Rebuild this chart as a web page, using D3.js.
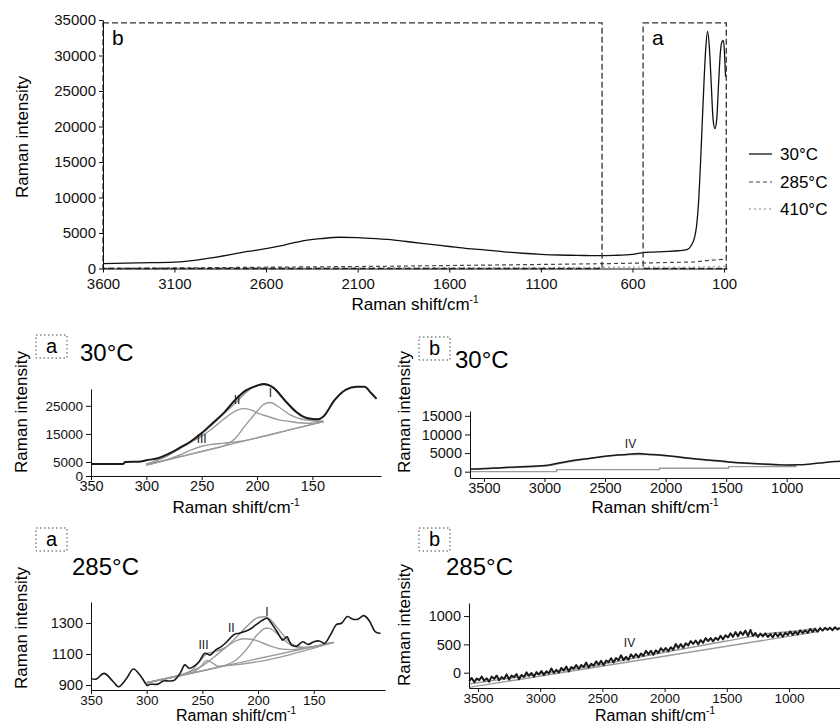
<!DOCTYPE html>
<html>
<head>
<meta charset="utf-8">
<script src="https://cdn.jsdelivr.net/npm/d3@7"></script>
<style>
  body { margin: 0; background: #fff; }
  svg { font-family: "Liberation Sans", Arial, sans-serif; }
</style>
</head>
<body>
<svg id="fig" width="840" height="725"></svg>
<script>
'use strict'

// ---- overview spectra (wavenumber, intensity) ----
const full30 = [[3490,700],[3300,800],[3100,900],[2900,1500],[2700,2400],[2600,2800],[2500,3300],
  [2400,3900],[2300,4200],[2200,4400],[2100,4350],[2000,4200],[1900,4000],[1800,3700],[1700,3400],
  [1600,3100],[1500,2800],[1400,2600],[1300,2350],[1200,2150],[1100,2000],[1000,1900],[900,1850],
  [800,1800],[700,1850],[600,2000],[550,2200],[500,2300],[450,2350],[400,2400],[350,2500],[300,2700],
  [280,3200],[260,4500],[250,6000],[240,9000],[230,14000],[220,20000],[210,26000],[200,31000],
  [190,33400],[180,31000],[170,26000],[160,21000],[150,19700],[140,21000],[130,26000],[120,30500],
  [110,32000],[103,32100],[97,30000],[92,27000]]
const full285 = [[3490,0],[3000,100],[2500,200],[2000,300],[1500,450],[1000,600],[600,750],[400,850],
  [250,950],[200,1100],[150,1200],[100,1300],[92,1300]]
const full410 = [[3490,40],[2500,80],[1500,130],[800,170],[300,200],[150,260],[92,300]]
const seriesNames = ['30°C', '285°C', '410°C']
const topXTicks = [3600, 3100, 2600, 2100, 1600, 1100, 600, 100]
const topYTicks = [0, 5000, 10000, 15000, 20000, 25000, 30000, 35000]
const boxA = [542, 88]      // zoom region a (cm-1)
const boxB = [3490, 766]    // zoom region b (cm-1)

// ---- panel a, 30°C ----
const a30Raw = [[350,4300],[330,4300],[321,4300],[319,5000],[305,5200],[300,5600],[290,6300],[280,7900],
  [270,10000],[260,12300],[250,15300],[240,18900],[230,22500],[220,27000],[210,30500],[200,32200],
  [194,32800],[185,31400],[175,27000],[165,23000],[155,20700],[145,20200],[140,21200],[130,27000],
  [120,30700],[110,31800],[103,31800],[97,29600],[92,27500]]
const a30Base = [[300,3900],[140,19400]]
const a30P1 = [[300,3900],[260,7780],[240,9710],[230,10700],[220,13300],[210,18300],[200,23000],
  [194,25500],[188,26200],[180,24500],[170,21800],[160,20300],[150,19700],[140,19400]]
const a30P2 = [[300,4300],[290,5600],[280,7400],[270,10000],[260,12000],[250,14200],[240,17000],
  [230,20300],[220,23000],[213,24000],[205,23500],[200,22500],[190,21200],[180,20000],[170,19400],
  [160,18900],[150,18800],[140,19400]]
const a30P3 = [[300,3950],[280,6000],[270,7400],[260,9200],[250,10600],[240,11300],[230,11700],
  [220,12100],[210,12700],[200,13590],[170,16500],[140,19400]]
const a30Sum = [[300,4200],[290,5600],[280,7400],[270,9700],[260,12000],[250,15000],[240,18500],
  [230,22200],[220,25800],[210,29800],[200,32200],[194,32500],[188,32000],[180,29500],[170,24800],
  [160,21300],[150,19900],[140,19400]]

// ---- panel a, 285°C ----
const a285Raw = [[350,943],[345,939],[338,975],[330,921],[325,889],[318,943],[312,1003],[305,954],
  [300,900],[297,905],[290,906],[285,926],[280,926],[275,932],[270,975],[266,1029],[262,1008],
  [258,1019],[253,1050],[248,1104],[243,1093],[238,1126],[233,1147],[228,1179],[222,1223],[217,1234],
  [212,1245],[207,1261],[202,1287],[197,1313],[192,1330],[188,1298],[183,1245],[178,1190],[174,1211],
  [170,1158],[165,1152],[160,1179],[155,1162],[150,1179],[145,1184],[140,1169],[135,1223],[130,1287],
  [125,1298],[120,1341],[115,1324],[110,1326],[105,1347],[100,1313],[95,1245],[90,1234]]
const a285Base = [[300,915],[132,1175]]
const a285P1 = [[300,915],[240,1008],[230,1026],[220,1060],[210,1133],[200,1230],[193,1266],[190,1265],
  [180,1213],[170,1155],[160,1139],[150,1147],[140,1163],[132,1175]]
const a285P2 = [[300,915],[280,947],[270,964],[260,989],[250,1024],[240,1077],[230,1136],[220,1184],
  [213,1198],[205,1193],[200,1183],[190,1154],[180,1133],[170,1128],[160,1136],[150,1148],[140,1163],[132,1175]]
const a285P3 = [[300,915],[270,961],[262,974],[256,992],[251,1022],[246,1059],[241,1042],[236,1022],
  [230,1024],[132,1175]]
const a285Sum = [[300,915],[290,930],[280,947],[270,964],[260,993],[250,1072],[246,1104],[240,1113],
  [230,1139],[220,1205],[210,1278],[200,1335],[193,1340],[190,1328],[180,1245],[170,1167],[160,1143],
  [150,1147],[140,1163],[132,1175]]

// ---- panel b, 30°C ----
const b30Raw = [[3615,730],[3560,700],[3450,950],[3380,1000],[3300,1170],[3150,1400],[3000,1630],
  [2900,2200],[2800,2800],[2650,3500],[2500,4160],[2400,4450],[2300,4700],[2220,4850],[2150,4700],
  [2000,4350],[1900,4000],[1800,3620],[1650,3150],[1500,2720],[1450,2500],[1350,2350],[1200,2090],
  [1100,1950],[1000,1810],[900,1850],[800,2090],[700,2400],[600,2720],[560,2800]]
const b30Fit = [[3615,600],[3300,1050],[3000,1500],[2800,2650],[2500,4050],[2300,4600],[2150,4600],
  [2000,4250],[1800,3500],[1500,2600],[1200,1950],[1000,1650],[920,1600]]
const b30Base = [[3615,0],[2900,540],[2050,900],[1480,1360],[920,1360]]

// ---- panel b, 285°C (noisy trace read point by point) ----
const b285Raw = [[3570,-150],[3550,-93],[3530,-166],[3510,-104],[3490,-131],[3470,-69],[3450,-142],
  [3430,-100],[3410,-157],[3390,-70],[3370,-108],[3350,-51],[3330,-133],[3310,-76],[3290,-110],
  [3270,-30],[3250,-120],[3230,-50],[3210,-80],[3190,-25],[3170,-115],[3150,-40],[3130,-75],[3110,5],
  [3090,-55],[3070,-5],[3050,-70],[3030,10],[3010,-32],[2990,29],[2970,-39],[2950,24],[2930,-13],
  [2910,74],[2890,-3],[2870,50],[2850,2],[2830,85],[2810,38],[2790,110],[2770,23],[2750,101],[2730,73],
  [2710,136],[2690,69],[2670,137],[2650,100],[2630,178],[2610,91],[2590,159],[2570,122],[2550,200],
  [2530,143],[2510,211],[2490,134],[2470,213],[2450,187],[2430,256],[2410,180],[2390,259],[2370,218],
  [2350,307],[2330,221],[2310,280],[2290,229],[2270,323],[2250,267],[2230,330],[2210,269],[2190,338],
  [2170,296],[2150,385],[2130,324],[2110,387],[2090,316],[2070,395],[2050,348],[2030,432],[2010,381],
  [1990,436],[1970,377],[1950,449],[1930,405],[1910,507],[1890,438],[1870,505],[1850,441],[1830,518],
  [1810,479],[1790,559],[1770,507],[1750,569],[1730,502],[1710,575],[1690,527],[1670,610],[1650,558],
  [1630,610],[1610,553],[1590,616],[1570,578],[1550,651],[1530,589],[1510,661],[1490,622],[1470,695],
  [1450,633],[1430,716],[1410,644],[1390,722],[1370,670],[1350,743],[1330,651],[1310,754],[1290,650],
  [1270,700],[1250,630],[1230,690],[1210,640],[1190,695],[1170,630],[1150,680],[1130,625],[1110,700],
  [1090,638],[1070,699],[1050,635],[1030,706],[1010,667],[990,728],[970,669],[950,725],[930,676],
  [910,747],[890,697],[870,747],[850,702],[830,772],[810,722],[790,772],[770,722],[750,787],[730,742],
  [710,792],[690,756],[670,793],[650,750],[630,802],[610,764],[590,790]]
const b285Fit = [[3572,-200],[3000,-20],[2500,150],[2000,360],[1500,560],[1200,680],[800,780],[780,790]]
const b285Base = [[3572,-260],[780,720]]

const svg = d3.select('#fig')
const fmt = d3.format('d')

// ================= overview chart =================
const xTop = d3.scaleLinear().domain([3490, 84]).range([103, 727])
const yTop = d3.scaleLinear().domain([0, 35000]).range([268.5, 20])
const gTop = svg.append('g').attr('class', 'overview')

const lineTop = d3.line().x(d => xTop(d[0])).y(d => yTop(d[1])).curve(d3.curveMonotoneX)
const topStyles = [
  {data: full410, stroke: '#aaa', dash: '2,3', w: 1.3},
  {data: full285, stroke: '#444', dash: '4,3', w: 1.2},
  {data: full30, stroke: '#111', dash: null, w: 1.3},
]
topStyles.forEach(s => {
  gTop.append('path').datum(s.data).attr('d', lineTop)
    .attr('fill', 'none').attr('stroke', s.stroke).attr('stroke-width', s.w)
    .attr('stroke-dasharray', s.dash)
})

// dashed zoom boxes
const boxTop = yTop(34600)
;[[boxB, 'b'], [boxA, 'a']].forEach(([b, lab]) => {
  const x0 = xTop(b[0]), x1 = xTop(b[1])
  gTop.append('rect').attr('x', x0).attr('y', boxTop).attr('width', x1 - x0).attr('height', yTop(0) - boxTop)
    .attr('fill', 'none').attr('stroke', '#333').attr('stroke-width', 1.3).attr('stroke-dasharray', '6,3')
  gTop.append('text').attr('x', x0 + 9).attr('y', boxTop + 22).attr('font-size', 21).text(lab)
})

gTop.append('g').attr('transform', 'translate(103,0)')
  .call(d3.axisLeft(yTop).tickValues(topYTicks).tickSize(4).tickSizeOuter(0).tickFormat(fmt))
gTop.append('g').attr('transform', `translate(0,${yTop(0)})`)
  .call(d3.axisBottom(xTop).tickValues(topXTicks.map(v => Math.min(v, xTop.domain()[0])))
    .tickSize(4).tickPadding(6).tickSizeOuter(0).tickFormat((d, i) => topXTicks[i]))
gTop.selectAll('.tick text').attr('font-size', 15).attr('fill', '#111')
gTop.selectAll('.tick line, .domain').attr('stroke', '#111')

function yTitle(g, x, y) {
  g.append('text').attr('transform', `translate(${x},${y}) rotate(-90)`)
    .attr('text-anchor', 'middle').attr('font-size', 17).text('Raman intensity')
}
function xTitle(g, x, y, size) {
  const t = g.append('text').attr('x', x).attr('y', y).attr('text-anchor', 'middle').attr('font-size', size || 17)
  t.append('tspan').text('Raman shift/cm')
  t.append('tspan').attr('font-size', 10).attr('dy', -7).text('-1')
}
yTitle(gTop, 28, 137)
xTitle(gTop, 415, 310)

// legend
const legend = gTop.append('g').attr('transform', 'translate(749,0)')
const legY = [154, 182, 209]
seriesNames.forEach((name, i) => {
  const s = topStyles[2 - i]
  legend.append('line').attr('x1', 0).attr('x2', 23).attr('y1', legY[i]).attr('y2', legY[i])
    .attr('stroke', s.stroke).attr('stroke-width', s.w).attr('stroke-dasharray', s.dash)
  legend.append('text').attr('x', 31).attr('y', legY[i]).attr('dy', '0.35em').attr('font-size', 17).text(name)
})

// ================= detail panels =================
function panel(cfg) {
  const g = svg.append('g')
  const x = d3.scaleLinear().domain(cfg.xDomain).range(cfg.xRange)
  const y = d3.scaleLinear().domain(cfg.yDomain).range(cfg.yRange)
  const line = d3.line().x(d => x(d[0])).y(d => y(d[1]))

  cfg.gray.forEach(d => {
    g.append('path').datum(d).attr('d', line.curve(d3.curveMonotoneX))
      .attr('fill', 'none').attr('stroke', '#9a9a9a').attr('stroke-width', 1.4)
  })
  if (cfg.step) {
    g.append('path').datum(cfg.step).attr('d', line.curve(d3.curveStepAfter))
      .attr('fill', 'none').attr('stroke', '#9a9a9a').attr('stroke-width', 1.4)
  }
  g.append('path').datum(cfg.raw).attr('d', line.curve(cfg.rawCurve || d3.curveMonotoneX))
    .attr('fill', 'none').attr('stroke', '#1a1a1a').attr('stroke-width', cfg.rawWidth)
    .attr('stroke-linejoin', 'round')

  const yAx = g.append('g').attr('transform', `translate(${cfg.xRange[0]},0)`)
    .call(d3.axisLeft(y).tickValues(cfg.yTicks).tickSize(5).tickSizeOuter(0).tickFormat(fmt))
  const xAx = g.append('g').attr('transform', `translate(0,${cfg.yRange[0]})`)
    .call(d3.axisBottom(x).tickValues(cfg.xTicks).tickSize(4).tickPadding(1).tickSizeOuter(0).tickFormat(fmt))
  yAx.selectAll('.tick text').attr('font-size', cfg.yTickFont || 14.5).attr('fill', '#111')
  xAx.selectAll('.tick text').attr('font-size', cfg.xTickFont || 14.5).attr('fill', '#111')
  g.selectAll('.tick line, .domain').attr('stroke', '#111')

  // peak labels
  cfg.peaks.forEach(p => {
    g.append('text').attr('x', x(p[0])).attr('y', y(p[1])).attr('text-anchor', 'middle')
      .attr('font-size', 12).attr('fill', '#222').text(p[2])
  })

  // dotted region tag and temperature title
  const b = cfg.tag
  g.append('rect').attr('x', b[0]).attr('y', b[1]).attr('width', 31).attr('height', 23)
    .attr('fill', 'none').attr('stroke', '#444').attr('stroke-width', 1).attr('stroke-dasharray', '1.5,2.5')
  g.append('text').attr('x', b[0] + 15.5).attr('y', b[1] + 18).attr('text-anchor', 'middle')
    .attr('font-size', 20).text(b[2])
  g.append('text').attr('x', cfg.title[0]).attr('y', cfg.title[1]).attr('font-size', 24).text(cfg.title[2])

  yTitle(g, cfg.yTitle[0], cfg.yTitle[1])
  xTitle(g, cfg.xTitle[0], cfg.xTitle[1], cfg.xTitle[2])
}

panel({
  xDomain: [350, 88], xRange: [91, 381], yDomain: [0, 31000], yRange: [476, 389],
  xTicks: [350, 300, 250, 200, 150], yTicks: [0, 5000, 15000, 25000], yTickFont: 13.5,
  raw: a30Raw, rawWidth: 2, gray: [a30Base, a30P3, a30P2, a30P1, a30Sum],
  peaks: [[188, 28000, 'I'], [218, 25600, 'II'], [250, 11800, 'III']],
  tag: [36, 335, 'a'], title: [80, 361, '30°C'], yTitle: [27, 412], xTitle: [236, 513]
})
panel({
  xDomain: [350, 86], xRange: [91, 385], yDomain: [868, 1435], yRange: [690, 602],
  xTicks: [350, 300, 250, 200, 150], yTicks: [900, 1100, 1300], xTickFont: 13.5,
  raw: a285Raw, rawWidth: 1.6, rawCurve: d3.curveCardinal, gray: [a285Base, a285P3, a285P2, a285P1, a285Sum],
  peaks: [[192, 1345, 'I'], [224, 1240, 'II'], [249, 1130, 'III']],
  tag: [36, 528, 'a'], title: [72, 575, '285°C'], yTitle: [27, 628], xTitle: [236, 721, 16]
})
panel({
  xDomain: [3615, 560], xRange: [470, 840], yDomain: [-1700, 16300], yRange: [478, 411],
  xTicks: [3500, 3000, 2500, 2000, 1500, 1000], yTicks: [0, 5000, 10000, 15000],
  raw: b30Raw, rawWidth: 1.5, gray: [b30Fit], step: b30Base,
  peaks: [[2290, 6400, 'IV']],
  tag: [419, 337, 'b'], title: [455, 368, '30°C'], yTitle: [410, 412], xTitle: [655, 513]
})
panel({
  xDomain: [3572, 590], xRange: [469, 840], yDomain: [-270, 1230], yRange: [688, 603],
  xTicks: [3500, 3000, 2500, 2000, 1500, 1000], yTicks: [0, 500, 1000], xTickFont: 13.5,
  raw: b285Raw, rawWidth: 2, rawCurve: d3.curveLinear, gray: [b285Base, b285Fit],
  peaks: [[2282, 450, 'IV']],
  tag: [419, 528, 'b'], title: [446, 575, '285°C'], yTitle: [410, 625], xTitle: [655, 721, 16]
})
</script>
</body>
</html>
